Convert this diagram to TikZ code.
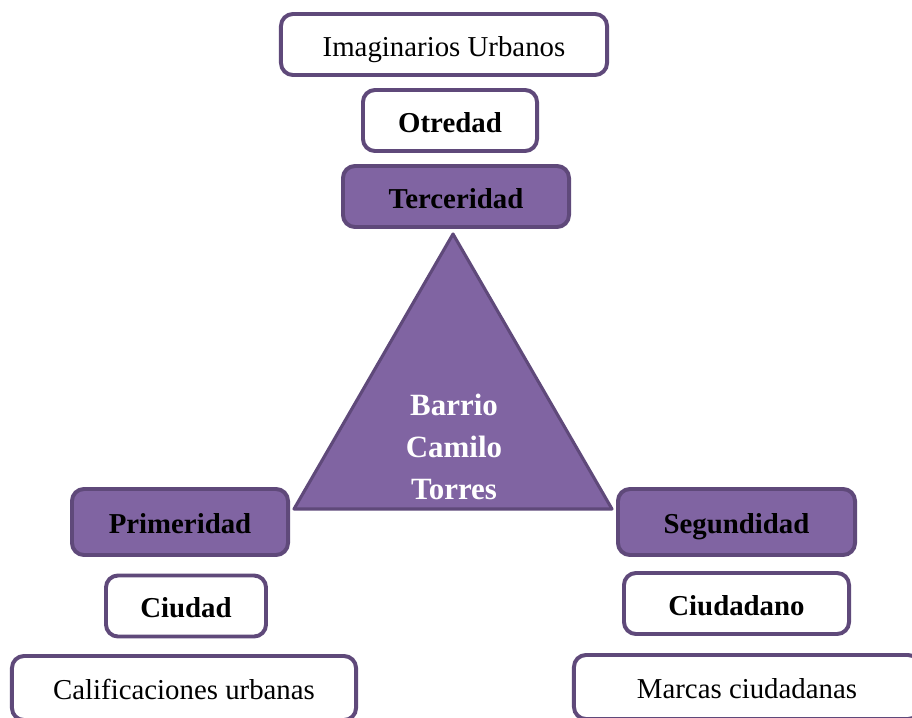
\documentclass[tikz,border=0pt]{standalone}
\usepackage{fontspec}
\setmainfont{Liberation Serif}
\definecolor{lila}{HTML}{8064A2}
\definecolor{lilaborde}{HTML}{5F497A}

\begin{document}
\begin{tikzpicture}[x=0.025cm, y=-0.025cm, font=\fontsize{20.5}{24}\selectfont, caja/.style={draw=lilaborde, fill=white, rounded corners=0.3cm, line width=2.8pt, minimum height=1.525cm, text height=17pt, text depth=0pt, align=center}, nivel/.style={caja, font=\fontsize{20.5}{24}\selectfont\bfseries}, fase/.style={nivel, fill=lila, minimum height=1.65cm}, tri/.style={draw=lilaborde, fill=lila, line width=2.2pt, line join=round}]
\clip (0,0) rectangle (912,717);
\fill[white] (0,0) rectangle (912,717);
\coordinate (cima) at (453,234);\coordinate (izq) at (294,509);\coordinate (der) at (612,509);
\draw[tri] (cima) -- (izq) -- (der) -- cycle;
\node[text=white, font=\fontsize{22}{30}\selectfont\bfseries, align=center] (barrio) at (454,447) {Barrio\\Camilo\\Torres};
\node[caja, minimum width=8.15cm] (imaginarios) at (444,44.5) {Imaginarios Urbanos};
\node[nivel, minimum width=4.35cm] (otredad) at (450,120.5) {Otredad};
\node[fase, minimum width=5.65cm, minimum height=1.525cm] (terceridad) at (456,196.5) {Terceridad};
\node[fase, minimum width=5.4cm] (primeridad) at (180,522) {Primeridad};
\node[fase, minimum width=5.925cm] (segundidad) at (736.5,522) {Segundidad};
\node[nivel, minimum width=4.0cm] (ciudad) at (186,606) {Ciudad};
\node[nivel, minimum width=5.625cm] (ciudadano) at (736.5,603.5) {Ciudadano};
\node[caja, minimum width=8.6cm, minimum height=1.6cm] (calificaciones) at (184,688) {Calificaciones urbanas};
\node[caja, minimum width=8.65cm, minimum height=1.6cm] (marcas) at (747,687) {Marcas ciudadanas};
\end{tikzpicture}
\end{document}
